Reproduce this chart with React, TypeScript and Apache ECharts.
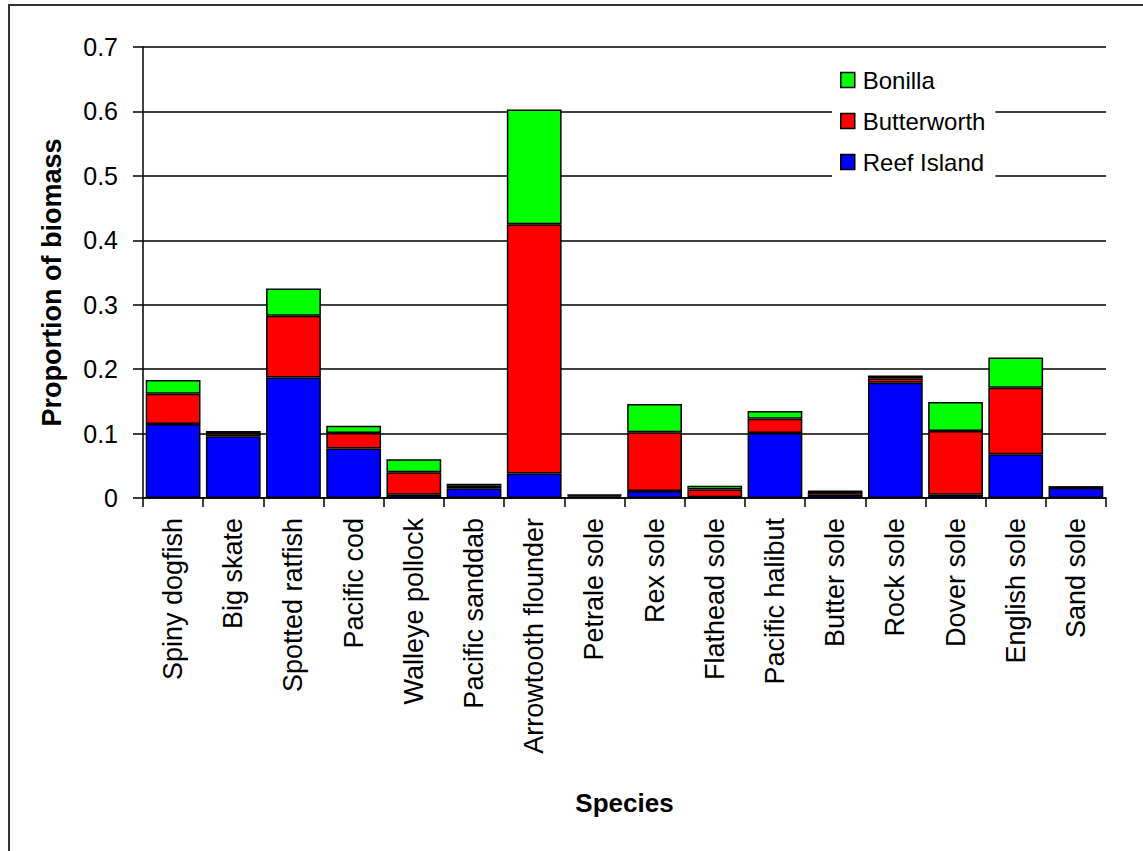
import React, { useEffect, useRef } from "react";
import * as echarts from "echarts";

const species = [
  "Spiny dogfish", "Big skate", "Spotted ratfish", "Pacific cod", "Walleye pollock",
  "Pacific sanddab", "Arrowtooth flounder", "Petrale sole", "Rex sole", "Flathead sole",
  "Pacific halibut", "Butter sole", "Rock sole", "Dover sole", "English sole", "Sand sole",
];
const reefIsland = [0.115, 0.096, 0.187, 0.077, 0.005, 0.015, 0.038, 0.002, 0.011, 0.001, 0.101, 0.005, 0.179, 0.005, 0.068, 0.016];
const butterworth = [0.047, 0.005, 0.096, 0.024, 0.035, 0.004, 0.387, 0.002, 0.091, 0.012, 0.022, 0.005, 0.007, 0.099, 0.103, 0.001];
const bonilla = [0.021, 0.003, 0.042, 0.011, 0.020, 0.003, 0.178, 0.001, 0.044, 0.006, 0.012, 0.001, 0.004, 0.045, 0.047, 0.0];
const legendOrder = ["Bonilla", "Butterworth", "Reef Island"];

const FONT = 'Arial, "Liberation Sans", sans-serif';

export default function App() {
  const ref = useRef<HTMLDivElement>(null);
  useEffect(() => {
    if (!ref.current) return;
    const chart = echarts.init(ref.current, null, { renderer: "svg" });
    const barStyle = (color: string) => ({ color, borderColor: "#000", borderWidth: 1.5 });
    chart.setOption({
      animation: false,
      backgroundColor: "#fff",
      textStyle: { fontFamily: FONT },
      graphic: [
        {
          type: "rect",
          shape: { x: 9, y: 5, width: 1160, height: 870 },
          style: { fill: "none", stroke: "#333", lineWidth: 2 },
          z: 10,
        },
      ],
      grid: { left: 143, top: 47, right: 37, bottom: 353, containLabel: false },
      legend: {
        data: legendOrder,
        orient: "vertical",
        left: 832,
        top: 60,
        padding: [8, 10, 8, 8],
        itemGap: 17,
        itemWidth: 14,
        itemHeight: 15,
        backgroundColor: "#fff",
        icon: "rect",
        textStyle: { fontFamily: FONT, fontSize: 24, color: "#000", padding: [0, 0, 0, 3] },
        itemStyle: { borderColor: "#000", borderWidth: 1.5 },
      },
      xAxis: {
        type: "category",
        data: species,
        boundaryGap: true,
        axisLine: { lineStyle: { color: "#000", width: 1.5 } },
        axisTick: { show: true, length: 9, alignWithLabel: false, lineStyle: { color: "#000", width: 1.5 } },
        axisLabel: {
          rotate: 90,
          interval: 0,
          margin: 20,
          fontFamily: FONT,
          fontSize: 27,
          color: "#000",
        },
        name: "Species",
        nameLocation: "middle",
        nameGap: 292,
        nameTextStyle: { fontFamily: FONT, fontSize: 26, fontWeight: "bold", color: "#000" },
      },
      yAxis: {
        type: "value",
        min: 0,
        max: 0.7,
        interval: 0.1,
        axisLine: { show: true, lineStyle: { color: "#000", width: 1.5 } },
        axisTick: { show: true, length: 10, lineStyle: { color: "#000", width: 1.5 } },
        splitLine: { show: true, lineStyle: { color: "#000", width: 1.5 } },
        axisLabel: {
          margin: 25,
          fontFamily: FONT,
          fontSize: 25,
          color: "#000",
          formatter: (v: number) => (v === 0 ? "0" : String(Math.round(v * 10) / 10)),
        },
        name: "Proportion of biomass",
        nameLocation: "middle",
        nameGap: 78,
        nameTextStyle: { fontFamily: FONT, fontSize: 27, fontWeight: "bold", color: "#000", padding: [0, 20, 0, 0] },
      },
      series: [
        { name: "Reef Island", type: "bar", stack: "total", data: reefIsland, barCategoryGap: "9%", itemStyle: barStyle("#0000ff") },
        { name: "Butterworth", type: "bar", stack: "total", data: butterworth, barCategoryGap: "9%", itemStyle: barStyle("#ff0000") },
        { name: "Bonilla", type: "bar", stack: "total", data: bonilla, barCategoryGap: "9%", itemStyle: barStyle("#00ff00") },
      ],
    });
    return () => chart.dispose();
  }, []);
  return (
    <div
      ref={ref}
      style={{ position: "fixed", left: 0, top: 0, width: 1143, height: 851, background: "#fff" }}
    />
  );
}
